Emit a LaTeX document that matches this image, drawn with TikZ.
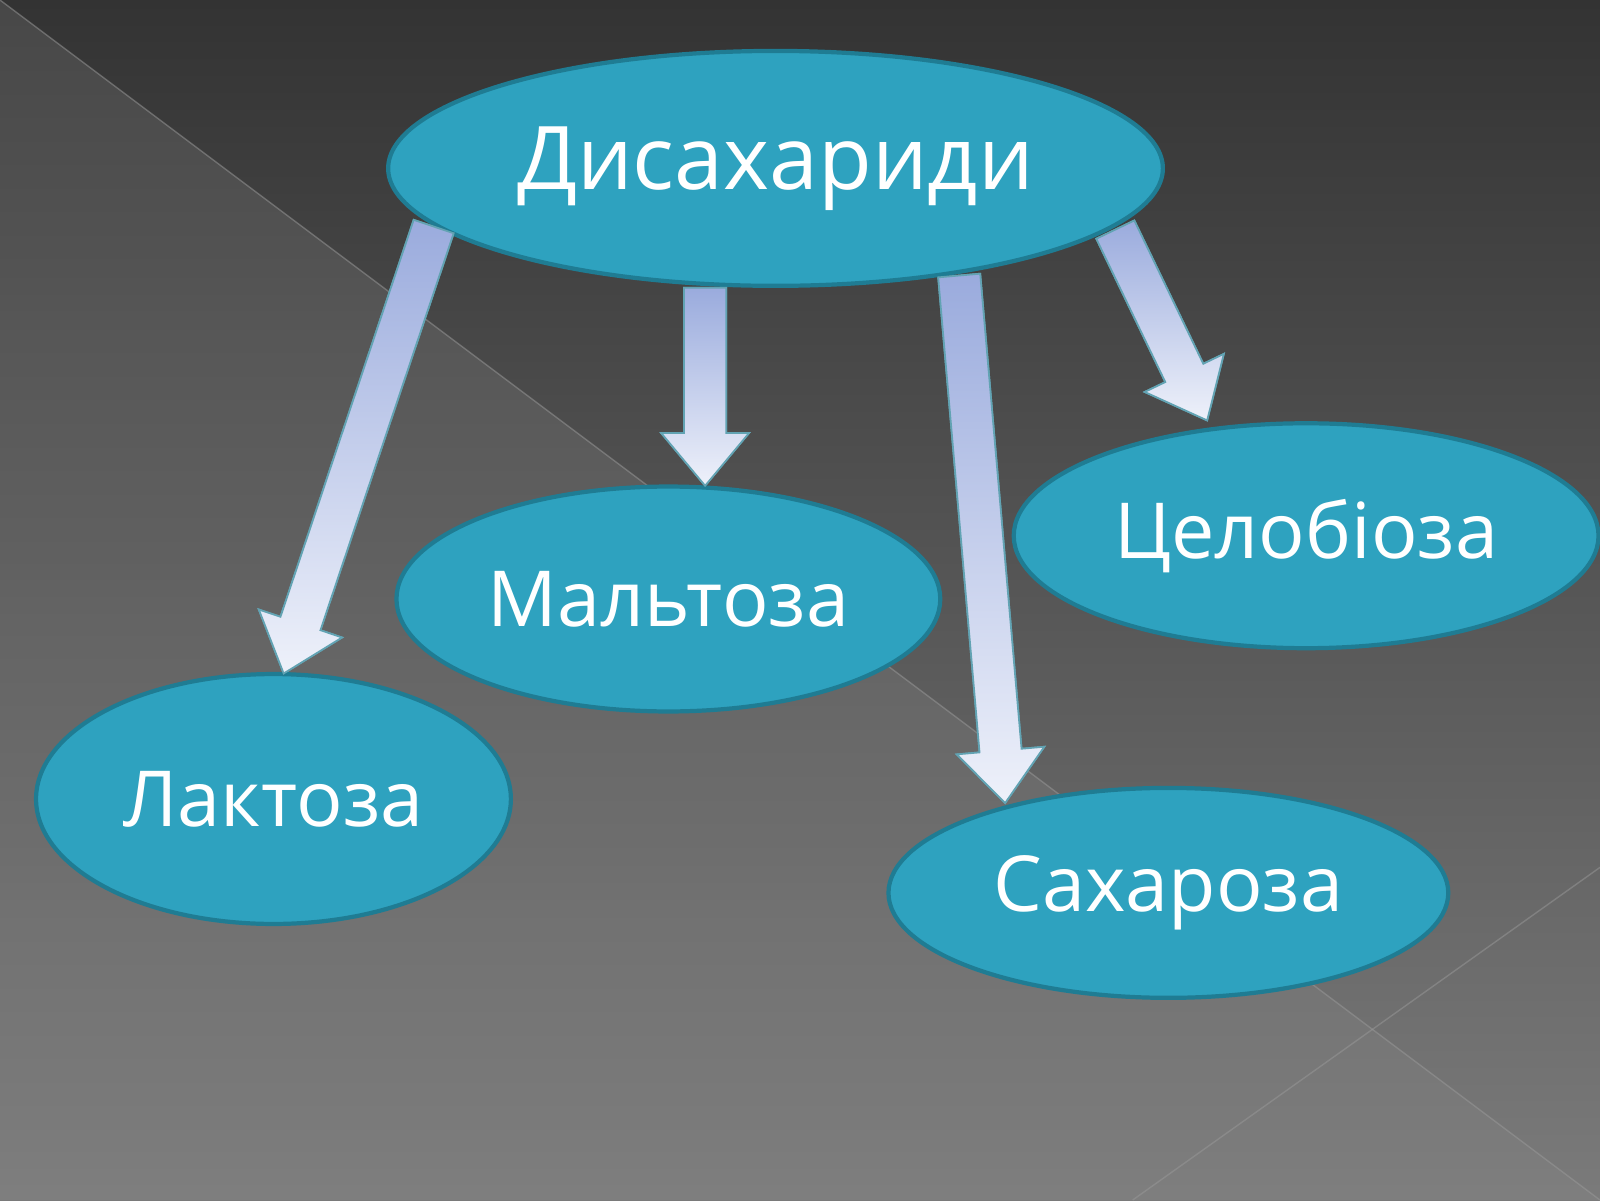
\documentclass[tikz,border=0pt]{standalone}
\usepackage{fontspec}
\setmainfont{Open Sans}
\usetikzlibrary{calc}
\definecolor{ovalfill}{HTML}{2EA2BF}
\definecolor{ovaledge}{HTML}{1F7C93}
\definecolor{arrowtop}{HTML}{9AABDD}
\definecolor{arrowbot}{HTML}{EEF1FA}
\tikzset{
  oval/.style={ellipse, fill=ovalfill, draw=ovaledge, line width=1.2pt, text=white},
}
\usetikzlibrary{shapes.geometric}
% block arrow from #1 to #2
\newcommand\blockarrow[2]{%
  \shade[top color=arrowtop, bottom color=arrowbot, draw=ovaledge!70, line width=0.5pt]
    let \p1=($(#2)-(#1)$), \n1={veclen(\x1,\y1)-15pt} in
    ($(#1)!6pt!90:(#2)$) -- ($($(#1)!\n1!(#2)$)!6pt!90:(#2)$)
    -- ($($(#1)!\n1!(#2)$)!12.5pt!90:(#2)$) -- (#2)
    -- ($($(#1)!\n1!(#2)$)!12.5pt!-90:(#2)$) -- ($($(#1)!\n1!(#2)$)!6pt!-90:(#2)$)
    -- ($(#1)!6pt!-90:(#2)$) -- cycle;}
\begin{document}
\begin{tikzpicture}[x=0.010204cm, y=-0.010204cm]
    \useasboundingbox (0,0) rectangle (1568,1176);
    % background
    \shade[top color=black!80, bottom color=black!52] (0,0) rectangle (1568,1176);
    \shade[top color=black!70, bottom color=black!50, opacity=0.8] (0,0) -- (1568,1176) -- (0,1176) -- cycle;
    \draw[white!60!black, opacity=0.5] (0,0) -- (1568,1176);
    \draw[white!60!black, opacity=0.5] (1110,1176) -- (1568,850);

    % arrows
    \coordinate (l1) at (425,222); \coordinate (l2) at (278,660);
    \coordinate (m1) at (691,282); \coordinate (m2) at (691,476);
    \coordinate (s1) at (940,270); \coordinate (s2) at (985,787);
    \coordinate (c1) at (1093,225); \coordinate (c2) at (1183,412);
    \blockarrow{l1}{l2}
    \blockarrow{m1}{m2}
    \blockarrow{s1}{s2}
    \blockarrow{c1}{c2}

    % nodes
    \node[oval, minimum width=7.75cm, minimum height=2.35cm, font=\fontsize{25}{30}\selectfont] (disach) at (760,165) {Дисахариди};
    \node[oval, minimum width=5.35cm, minimum height=2.25cm, font=\fontsize{22}{26}\selectfont] (malt) at (655,587) {Мальтоза};
    \node[oval, minimum width=5.85cm, minimum height=2.25cm, font=\fontsize{22}{26}\selectfont] (cel) at (1280,525) {Целобіоза};
    \node[oval, minimum width=4.75cm, minimum height=2.5cm, font=\fontsize{22}{26}\selectfont] (lakt) at (268,783) {Лактоза};
    \node[oval, minimum width=5.6cm, minimum height=2.1cm, font=\fontsize{22}{26}\selectfont] (sach) at (1145,875) {Сахароза};
    \blockarrow{l1}{l2}
    \blockarrow{m1}{m2}
    \blockarrow{s1}{s2}
    \blockarrow{c1}{c2}
\end{tikzpicture}
\end{document}
